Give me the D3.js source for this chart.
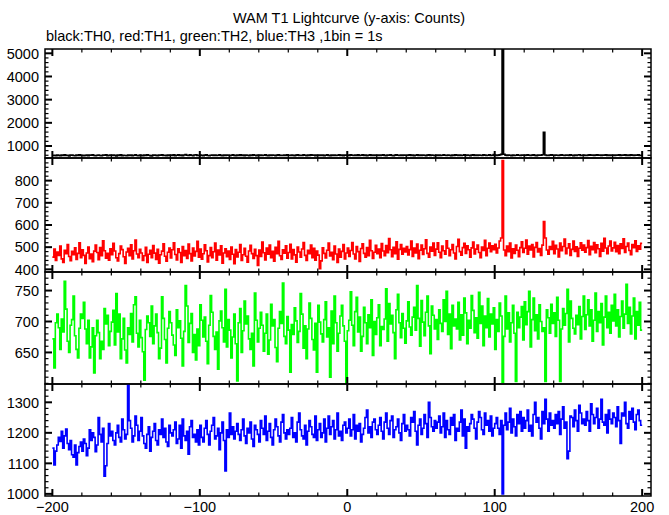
<!DOCTYPE html>
<html><head><meta charset="utf-8">
<script src="https://cdn.jsdelivr.net/npm/d3@7"></script>
<style>html,body{margin:0;padding:0;background:#fff;}svg{display:block;}text{font-family:"Liberation Sans",Arial,sans-serif;}</style>
</head><body>
<script>
const titleText = "WAM T1 Lightcurve (y-axis: Counts)";
const subtitleText = "black:TH0, red:TH1, green:TH2, blue:TH3 ,1bin = 1s";
const xStart = -200;
const xTickLabels = [-200, -100, 0, 100, 200];

const th0 = [
590,602,585,611,597,580,606,593,618,588,599,575,604,612,591,583,608,596,620,587,
601,579,594,613,586,605,598,622,589,576,603,610,592,584,607,599,615,581,596,604,
588,611,597,574,606,593,619,584,602,590,577,608,595,613,586,600,621,592,579,605,
597,583,609,591,618,600,586,573,604,612,594,581,607,598,624,589,603,577,610,595,
606,590,615,582,599,623,594,607,585,611,631,603,592,616,598,584,609,621,596,588,
612,597,583,605,619,591,576,602,614,593,608,587,600,617,595,582,606,592,611,599,
585,603,616,594,580,608,597,621,589,604,576,611,598,586,609,593,615,601,583,607,
594,612,588,601,619,596,583,607,592,614,600,578,605,618,591,603,587,610,597,622,
603,589,611,596,582,608,623,594,601,587,615,599,584,606,592,620,598,611,586,604,
591,608,597,613,585,602,619,594,580,607,596,612,589,603,617,592,605,584,610,598,
606,593,618,600,587,612,596,624,589,603,615,591,607,582,599,621,595,610,588,604,
597,613,590,606,622,595,584,609,600,616,593,578,605,619,598,587,611,594,607,601,
589,604,617,596,611,583,602,625,594,608,590,613,599,586,606,621,592,610,598,584,
608,595,612,587,603,619,598,591,614,600,586,607,593,622,605,589,611,596,602,617,
594,610,599,583,606,618,592,604,587,613,601,595,620,608,591,603,616,589,598,627,
611,596,604,618,638,5150,642,607,593,612,600,586,609,595,603,620,598,589,605,614,
592,608,619,601,587,604,615,596,583,610,598,607,624,1590,612,597,590,606,617,601,
595,611,602,588,607,620,599,593,612,604,590,616,601,585,608,597,613,625,594,603,
609,597,589,606,618,600,614,592,608,623,598,605,587,612,601,619,596,607,590,611,
604,588,613,599,621,594,607,602,615,590,609,597,618,605,593,611,600,616,595,602
];
const th1 = [
455,492,440,478,463,505,447,431,486,470,512,458,439,481,466,497,445,472,520,452,
488,463,427,474,501,448,469,435,482,510,476,443,498,461,529,484,450,472,441,493,
466,517,483,452,438,471,505,489,457,426,478,495,462,511,447,484,532,469,453,490,
474,440,461,499,431,468,486,452,507,473,445,490,428,466,482,515,459,437,477,496,
451,488,520,467,442,493,476,431,503,462,485,449,514,471,438,496,460,481,526,455,
492,446,470,511,484,433,462,498,452,479,519,441,487,465,506,428,474,493,457,482,
445,501,468,425,489,456,477,512,440,466,495,459,432,483,508,471,449,490,462,418,
487,458,523,475,442,496,468,510,452,481,437,499,470,526,461,445,488,473,506,450,
476,513,447,489,465,432,501,478,455,492,521,463,440,486,470,509,452,495,441,482,
464,403,438,497,472,451,486,518,460,477,443,505,469,431,492,455,481,512,447,474,
496,458,485,521,469,447,503,480,436,494,515,472,455,498,462,531,484,449,477,508,
470,492,452,516,483,461,507,475,539,488,457,499,471,524,446,490,512,468,495,478,
503,465,489,527,458,496,474,514,448,486,509,467,493,533,472,455,501,482,519,463,
491,520,477,453,505,484,468,529,495,461,488,512,474,447,503,536,480,464,498,517,
472,506,488,455,497,523,469,491,510,476,452,500,485,531,462,495,518,479,506,489,
513,474,496,528,541,890,487,462,505,480,518,451,493,472,509,486,457,498,524,476,
495,532,468,505,487,512,456,499,521,478,494,463,509,615,541,487,468,503,490,526,
471,508,492,456,519,484,503,537,470,496,515,463,490,527,481,502,458,495,520,486,
509,477,498,530,466,504,489,521,475,511,493,458,517,482,540,496,471,505,528,483,
497,522,480,507,471,515,494,538,476,503,519,485,466,512,498,529,481,506,491,517
];
const th2 = [
672,625,698,712,690,655,704,683,765,720,668,650,694,703,741,677,655,641,689,712,
705,731,688,664,702,641,659,690,617,677,702,682,640,668,655,721,696,710,661,684,
699,718,662,745,683,712,640,672,705,654,633,690,679,713,667,727,740,681,659,702,
674,651,605,687,709,698,676,725,664,693,712,682,640,657,740,705,671,633,689,716,
698,678,662,645,719,690,701,673,628,684,758,725,666,697,713,650,679,638,688,661,
727,702,675,707,668,632,694,742,715,676,655,683,623,701,717,690,667,752,659,703,
686,641,675,712,664,604,698,721,650,685,733,696,709,672,655,681,628,746,702,667,
689,715,694,652,681,712,647,670,728,693,703,658,635,689,716,697,762,676,664,708,
686,618,695,679,722,701,666,684,745,712,657,693,640,688,730,705,671,654,697,618,
726,699,680,667,703,732,675,690,610,717,664,741,698,652,681,709,726,693,668,600,
685,702,748,694,661,716,739,683,707,652,676,723,698,664,711,690,735,645,700,679,
706,727,661,692,687,704,753,668,729,696,710,682,640,719,744,698,674,713,689,665,
701,732,691,678,707,723,686,758,705,660,734,699,677,715,741,693,648,725,710,688,
703,671,719,697,684,735,700,749,679,712,656,726,693,704,688,731,670,711,678,738,
714,664,702,689,742,718,682,706,673,747,697,725,661,709,690,737,675,712,696,722,
655,703,684,730,709,602,676,741,688,714,667,698,726,681,603,715,690,707,724,670,
732,695,716,749,659,703,738,685,711,672,727,700,684,690,603,719,706,681,728,697,
714,676,739,702,603,688,721,694,713,752,667,733,705,689,680,710,695,724,672,708,
741,687,711,735,693,719,668,702,746,684,716,698,729,662,707,741,690,715,681,726,
701,744,693,719,675,708,733,689,712,760,697,723,680,709,738,672,716,694,731,686
];
const th3 = [
1150,1095,1140,1160,1185,1172,1205,1150,1190,1212,1165,1145,1175,1128,1120,1160,1095,1135,1155,1170,
1140,1180,1165,1125,1150,1210,1175,1200,1185,1138,1160,1250,1195,1170,1215,1058,1092,1165,1230,1190,
1205,1175,1160,1200,1225,1185,1170,1245,1210,1180,1195,1360,1240,1215,1170,1190,1255,1225,1175,1205,
1250,1190,1165,1150,1195,1220,1140,1185,1205,1230,1175,1160,1210,1195,1245,1185,1215,1170,1155,1225,
1200,1190,1210,1235,1165,1180,1225,1150,1245,1190,1175,1205,1130,1220,1240,1185,1195,1170,1210,1160,
1225,1185,1170,1215,1240,1195,1160,1205,1225,1250,1180,1190,1215,1145,1200,1235,1175,1075,1210,1185,
1265,1195,1220,1180,1205,1230,1195,1175,1210,1245,1190,1165,1215,1200,1235,1180,1155,1225,1210,1195,
1170,1240,1215,1195,1255,1175,1205,1230,1185,1160,1210,1245,1220,1190,1170,1235,1260,1200,1180,1210,
1195,1215,1250,1185,1200,1170,1235,1265,1210,1190,1180,1225,1160,1205,1240,1220,1195,1185,1255,1175,
1210,1230,1185,1200,1245,1170,1215,1255,1195,1220,1240,1180,1210,1265,1190,1205,1175,1225,1235,1200,
1215,1245,1190,1210,1260,1180,1225,1205,1230,1170,1195,1215,1250,1275,1200,1220,1185,1235,1245,1210,
1195,1225,1250,1205,1180,1235,1265,1215,1195,1240,1255,1185,1210,1220,1245,1200,1175,1230,1260,1205,
1225,1210,1190,1250,1235,1270,1205,1160,1225,1245,1195,1215,1260,1230,1185,1300,1250,1220,1205,1240,
1215,1235,1255,1200,1220,1265,1185,1240,1210,1195,1250,1225,1260,1175,1215,1205,1235,1275,1190,1245,
1150,1220,1205,1230,1260,1245,1215,1180,1235,1270,1250,1210,1195,1265,1225,1240,1205,1255,1190,1215,
1230,1250,1215,1195,1240,1000,1225,1265,1210,1235,1280,1200,1245,1220,1190,1260,1230,1270,1205,1250,
1215,1240,1275,1205,1225,1190,1260,1300,1235,1250,1215,1180,1270,1230,1310,1245,1205,1265,1225,1240,
1215,1260,1230,1270,1195,1245,1285,1215,1235,1115,1140,1255,1250,1220,1275,1240,1205,1290,1265,1230,
1245,1225,1270,1240,1205,1295,1260,1230,1250,1280,1215,1245,1310,1235,1225,1260,1200,1275,1245,1230,
1265,1250,1220,1285,1240,1165,1265,1255,1300,1230,1215,1270,1245,1280,1235,1210,1260,1275,1240,1225
];

const panelColors = ["#000000", "#ff0000", "#00ff00", "#0000ff"];
const yMajor = [[1000,2000,3000,4000,5000],[400,500,600,700,800],[650,700,750],[1000,1100,1200,1300]];
const yMinorStep = [200, 20, 10, 20];
const yDomains = [[482,5186],[388,902],[599,780],[993,1360]];
const series = [th0, th1, th2, th3];

const W = 669, H = 515;
const left = 45, right = 651;
const panelEdges = [49, 158, 272, 384, 496];

const svg = d3.select("body").append("svg").attr("width", W).attr("height", H);

const x = d3.scaleLinear().domain([-205, 206]).range([left, right]);

svg.append("text").attr("x", 349).attr("y", 23).attr("text-anchor", "middle")
  .attr("font-size", "14.5px").text(titleText);
svg.append("text").attr("x", 46).attr("y", 41).attr("text-anchor", "start")
  .attr("font-size", "14.5px").text(subtitleText);

const xMinor = d3.range(-200, 201, 20);
const xMajor = d3.range(-200, 201, 100);

series.forEach((vals, p) => {
  const top = panelEdges[p], bot = panelEdges[p+1];
  const y = d3.scaleLinear().domain(yDomains[p]).range([bot, top]);
  const g = svg.append("g");
  const clipId = "clip" + p;
  svg.append("clipPath").attr("id", clipId).append("rect")
    .attr("x", left).attr("y", top).attr("width", right-left).attr("height", bot-top);
  const pts = vals.map((v, i) => [xStart + i, v]);
  pts.push([xStart + vals.length, vals[vals.length-1]]);
  const line = d3.line().x(d => x(d[0])).y(d => y(d[1])).curve(d3.curveStepAfter);
  g.append("path").attr("d", line(pts)).attr("fill", "none")
    .attr("stroke", panelColors[p]).attr("stroke-width", 1.6)
    .attr("clip-path", `url(#${clipId})`);

  g.append("rect").attr("x", left).attr("y", top).attr("width", right-left).attr("height", bot-top)
    .attr("fill", "none").attr("stroke", "#000").attr("stroke-width", 1.5);

  const yMin = d3.range(Math.ceil(yDomains[p][0]/yMinorStep[p])*yMinorStep[p], yDomains[p][1], yMinorStep[p]);
  const tk = g.append("g").attr("stroke", "#000");
  yMin.forEach(v => {
    const major = yMajor[p].includes(v);
    const len = major ? 7 : 3.5;
    const yy = y(v);
    tk.append("line").attr("x1", left).attr("x2", left+len).attr("y1", yy).attr("y2", yy).attr("stroke-width", major ? 2 : 1.2);
    tk.append("line").attr("x1", right).attr("x2", right-len).attr("y1", yy).attr("y2", yy).attr("stroke-width", major ? 2 : 1.2);
  });
  yMajor[p].forEach(v => {
    g.append("text").attr("x", 39).attr("y", y(v)).attr("dy", "0.36em")
      .attr("text-anchor", "end").attr("font-size", "14.5px").text(v);
  });
  xMinor.forEach(v => {
    const major = xMajor.includes(v);
    const len = major ? 7 : 3.5;
    const xx = x(v);
    tk.append("line").attr("x1", xx).attr("x2", xx).attr("y1", top).attr("y2", top+len).attr("stroke-width", major ? 2 : 1.2);
    tk.append("line").attr("x1", xx).attr("x2", xx).attr("y1", bot).attr("y2", bot-len).attr("stroke-width", major ? 2 : 1.2);
  });
});

xTickLabels.forEach(v => {
  svg.append("text").attr("x", x(v)).attr("y", 512).attr("text-anchor", "middle")
    .attr("font-size", "14.5px").text(v < 0 ? "\u2212" + Math.abs(v) : String(v));
});
</script>
</body></html>
